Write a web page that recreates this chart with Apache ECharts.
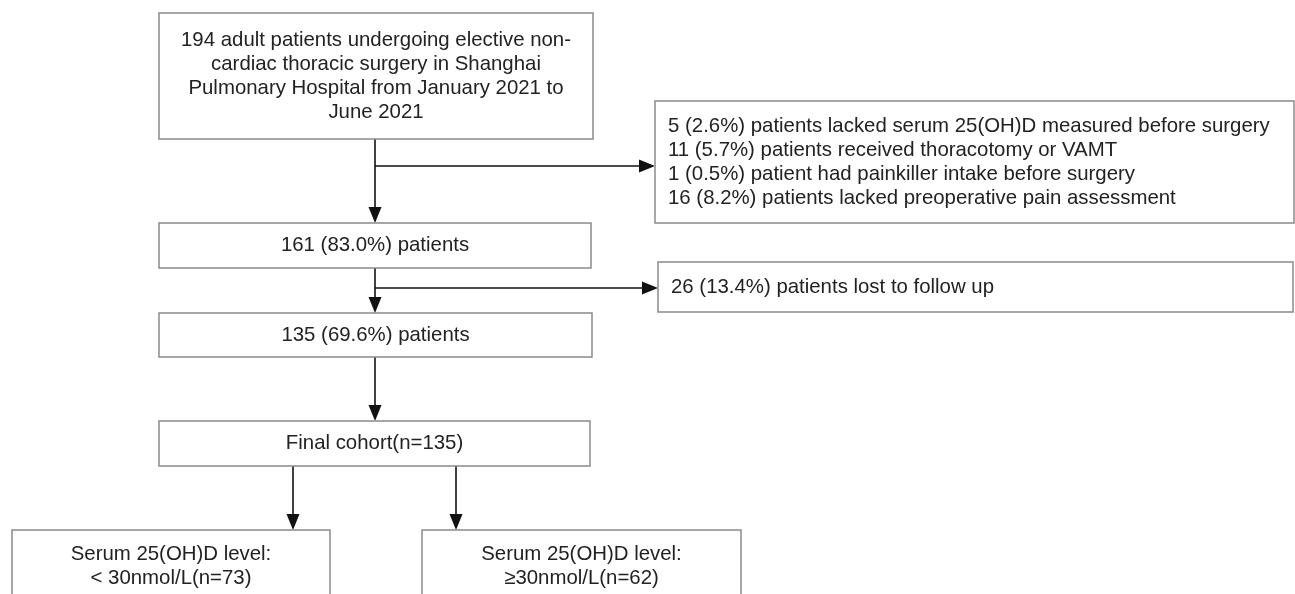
<!DOCTYPE html>
<html>
<head>
<meta charset="utf-8">
<script src="https://cdn.jsdelivr.net/npm/echarts@6/dist/echarts.min.js"></script>
<style>
  html, body { margin: 0; padding: 0; background: #fff; }
  #chart { width: 1295px; height: 594px; }
</style>
</head>
<body>
<div id="chart"></div>
<script>
// flow chart texts
const boxLabels = [
  '194 adult patients undergoing elective non-\ncardiac thoracic surgery in Shanghai\nPulmonary Hospital from January 2021 to\nJune 2021',
  '5 (2.6%) patients lacked serum 25(OH)D measured before surgery\n11 (5.7%) patients received thoracotomy or VAMT\n1 (0.5%) patient had painkiller intake before surgery\n16 (8.2%) patients lacked preoperative pain assessment',
  '161 (83.0%) patients',
  '26 (13.4%) patients lost to follow up',
  '135 (69.6%) patients',
  'Final cohort(n=135)',
  'Serum 25(OH)D level:\n< 30nmol/L(n=73)',
  'Serum 25(OH)D level:\n\u226530nmol/L(n=62)'
];
const boxAlign = ['center', 'left', 'center', 'left', 'center', 'center', 'center', 'center'];

// layout: [x, y, width, height] in page units
const boxLayout = [
  [159, 13, 434, 126],
  [655, 101, 639, 122],
  [159, 223, 432, 45],
  [658, 262, 635, 50],
  [159, 313, 433, 44],
  [159, 421, 431, 45],
  [12, 530, 318, 72],
  [422, 530, 319, 72]
];

// arrows: [x1, y1, x2, y2]
const arrowLayout = [
  [375, 139, 375, 223],
  [375, 166, 655, 166],
  [375, 268, 375, 313],
  [375, 288, 658, 288],
  [375, 357, 375, 421],
  [293, 466, 293, 530],
  [456, 466, 456, 530]
];

const chart = echarts.init(document.getElementById('chart'));

function renderBox(params, api) {
  const i = params.dataIndex;
  const p = api.coord([api.value(0), api.value(1)]);
  const q = api.coord([api.value(0) + api.value(2), api.value(1) + api.value(3)]);
  const left = boxAlign[i] === 'left';
  return {
    type: 'group',
    children: [
      {
        type: 'rect',
        shape: {x: p[0], y: p[1], width: q[0] - p[0], height: q[1] - p[1]},
        style: {fill: '#fff', stroke: '#8a8a8a', lineWidth: 1.5}
      },
      {
        type: 'text',
        style: {
          text: boxLabels[i],
          x: left ? p[0] + 13 : (p[0] + q[0]) / 2,
          y: (p[1] + q[1]) / 2,
          align: left ? 'left' : 'center',
          verticalAlign: 'middle',
          fill: '#222',
          fontSize: 20.4,
          fontFamily: '"Liberation Sans", Arial, sans-serif',
          lineHeight: 24
        }
      }
    ]
  };
}

function renderArrow(params, api) {
  const a = api.coord([api.value(0), api.value(1)]);
  const b = api.coord([api.value(2), api.value(3)]);
  const dx = b[0] - a[0], dy = b[1] - a[1];
  const len = Math.sqrt(dx * dx + dy * dy);
  const ux = dx / len, uy = dy / len;
  const headLen = 16, headW = 6.5;
  const bx = b[0] - ux * headLen, by = b[1] - uy * headLen;
  return {
    type: 'group',
    children: [
      {
        type: 'line',
        shape: {x1: a[0], y1: a[1], x2: bx, y2: by},
        style: {stroke: '#111', lineWidth: 1.6}
      },
      {
        type: 'polygon',
        shape: {points: [
          [b[0], b[1]],
          [bx - uy * headW, by + ux * headW],
          [bx + uy * headW, by - ux * headW]
        ]},
        style: {fill: '#111'}
      }
    ]
  };
}

chart.setOption({
  animation: false,
  backgroundColor: '#fff',
  grid: {left: 0, right: 0, top: 0, bottom: 0},
  xAxis: {type: 'value', min: 0, max: 1295, show: false},
  yAxis: {type: 'value', min: 0, max: 594, inverse: true, show: false},
  series: [
    {
      type: 'custom',
      name: 'arrows',
      clip: false,
      silent: true,
      renderItem: renderArrow,
      data: arrowLayout
    },
    {
      type: 'custom',
      name: 'boxes',
      clip: false,
      silent: true,
      renderItem: renderBox,
      data: boxLayout
    }
  ]
});
</script>
</body>
</html>
